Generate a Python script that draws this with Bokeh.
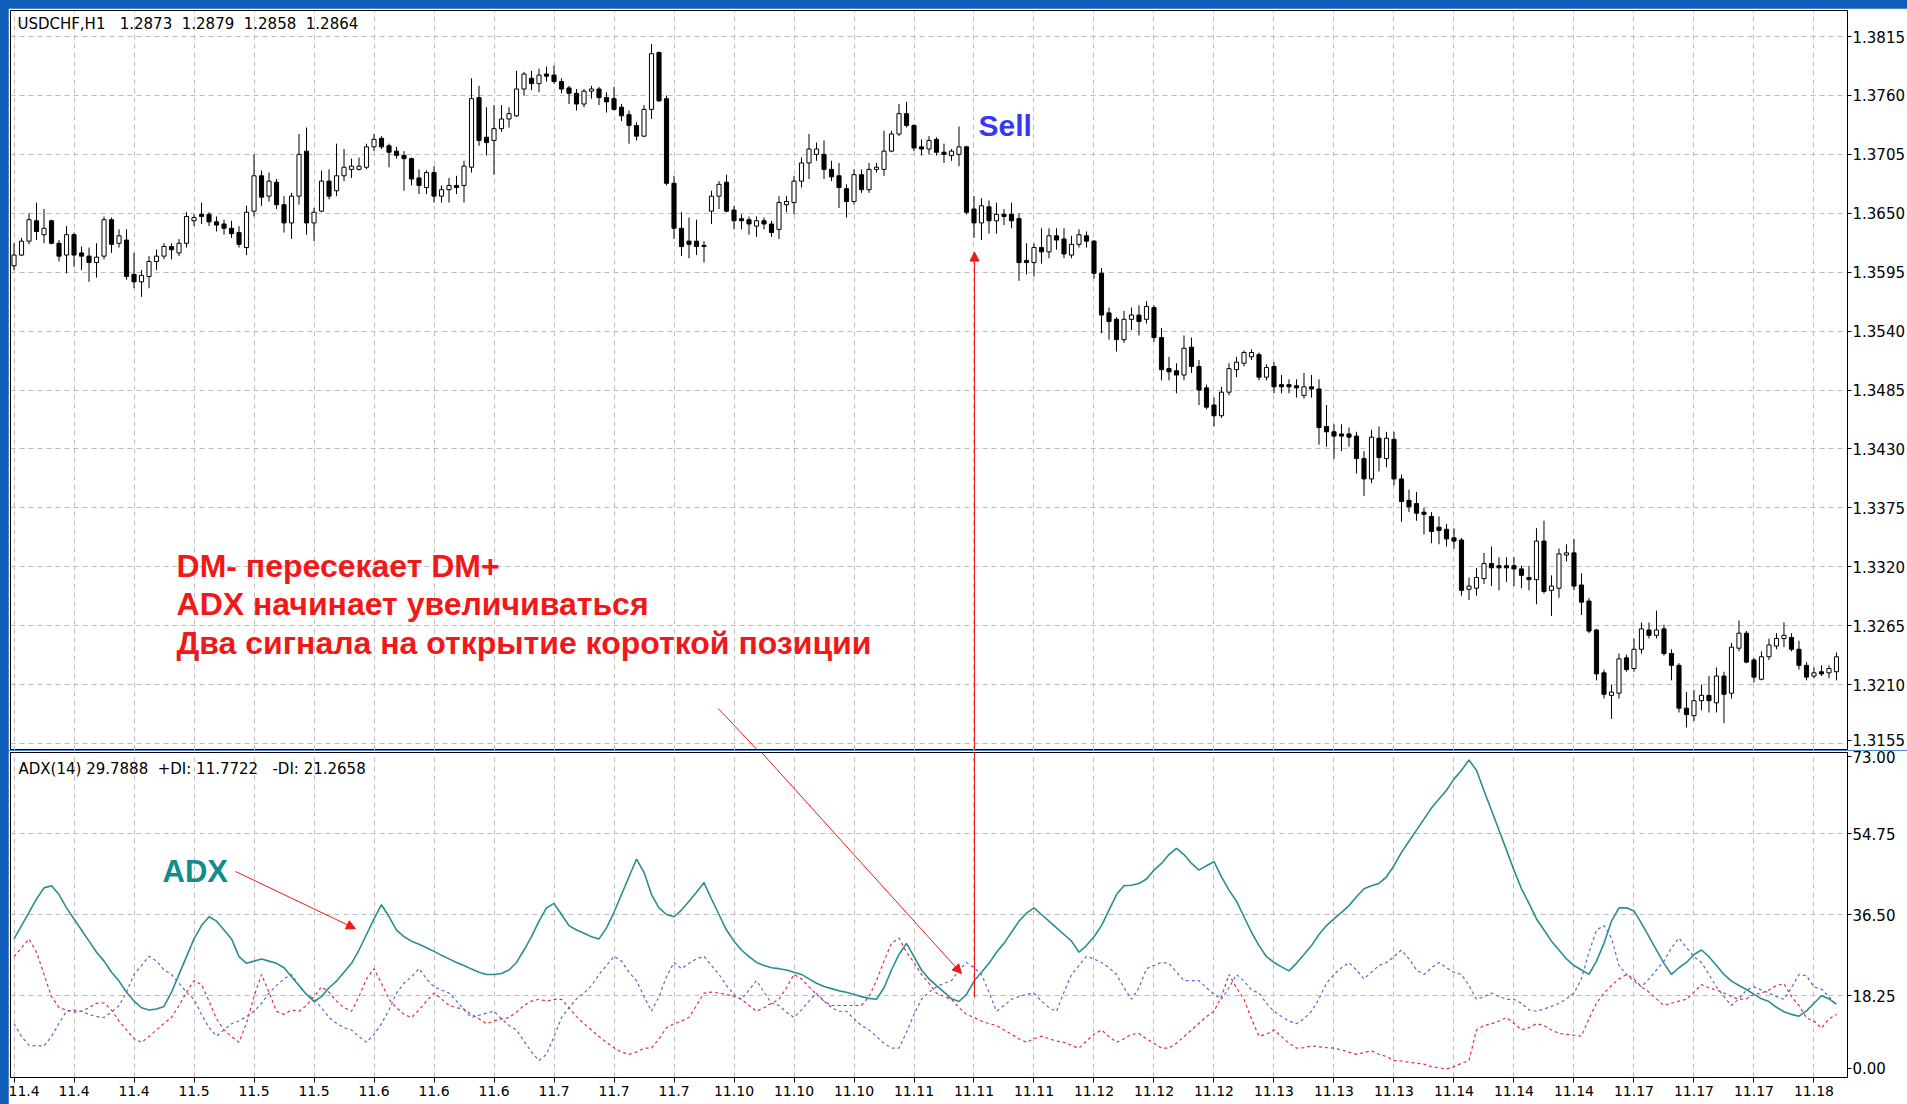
import numpy as np
from bokeh.plotting import figure
from bokeh.layouts import column
from bokeh.models import (Range1d, FixedTicker, NumeralTickFormatter, Label, Arrow,
                          NormalHead, ColumnDataSource, GlobalInlineStyleSheet)
from bokeh.embed import file_html
from bokeh.resources import INLINE

# ---------------- data (USDCHF H1) ----------------
opens = [1.3601,1.3611,1.3624,1.3643,1.3630,1.3643,1.3622,1.3611,1.3630,1.3613,
 1.3610,1.3604,1.3610,1.3644,1.3622,1.3625,1.3593,1.3586,1.3591,1.3605,
 1.3610,1.3619,1.3613,1.3622,1.3643,1.3649,1.3649,1.3642,1.3640,1.3636,
 1.3632,1.3618,1.3652,1.3685,1.3666,1.3679,1.3658,1.3641,1.3666,1.3708,
 1.3641,1.3652,1.3680,1.3671,1.3685,1.3691,1.3691,1.3693,1.3712,1.3720,
 1.3713,1.3708,1.3704,1.3701,1.3683,1.3674,1.3688,1.3666,1.3672,1.3676,
 1.3676,1.3693,1.3758,1.3721,1.3718,1.3729,1.3738,1.3741,1.3766,1.3776,
 1.3771,1.3780,1.3779,1.3773,1.3767,1.3762,1.3752,1.3764,1.3766,1.3758,
 1.3757,1.3749,1.3742,1.3732,1.3722,1.3747,1.3800,1.3757,1.3678,1.3636,
 1.3624,1.3624,1.3620,1.3652,1.3666,1.3679,1.3653,1.3645,1.3644,1.3638,
 1.3643,1.3640,1.3635,1.3658,1.3660,1.3680,1.3697,1.3705,1.3705,1.3691,
 1.3685,1.3673,1.3661,1.3686,1.3672,1.3691,1.3691,1.3708,1.3724,1.3743,
 1.3732,1.3712,1.3710,1.3719,1.3707,1.3704,1.3705,1.3712,1.3654,1.3641,
 1.3656,1.3643,1.3649,1.3649,1.3645,1.3606,1.3604,1.3618,1.3614,1.3629,
 1.3626,1.3611,1.3621,1.3629,1.3624,1.3594,1.3557,1.3551,1.3532,1.3551,
 1.3555,1.3551,1.3562,1.3534,1.3505,1.3503,1.3499,1.3525,1.3507,1.3487,
 1.3471,1.3461,1.3483,1.3504,1.3510,1.3516,1.3518,1.3497,1.3507,1.3490,
 1.3490,1.3489,1.3480,1.3488,1.3486,1.3451,1.3446,1.3444,1.3444,1.3442,
 1.3421,1.3402,1.3440,1.3421,1.3439,1.3402,1.3382,1.3379,1.3371,1.3367,
 1.3357,1.3355,1.3347,1.3345,1.3299,1.3300,1.3309,1.3323,1.3321,1.3321,
 1.3321,1.3318,1.3310,1.3308,1.3344,1.3298,1.3300,1.3331,1.3333,1.3303,
 1.3288,1.3261,1.3221,1.3200,1.3202,1.3235,1.3225,1.3243,1.3261,1.3256,
 1.3262,1.3239,1.3228,1.3188,1.3181,1.3195,1.3200,1.3193,1.3218,1.3202,
 1.3244,1.3258,1.3233,1.3215,1.3236,1.3246,1.3253,1.3254,1.3243,1.3228,
 1.3218,1.3222,1.3221,1.3222]
highs = [1.3622,1.3627,1.3650,1.3660,1.3654,1.3644,1.3625,1.3638,1.3632,1.3619,
 1.3618,1.3622,1.3647,1.3646,1.3635,1.3635,1.3613,1.3597,1.3610,1.3616,
 1.3622,1.3622,1.3626,1.3651,1.3649,1.3660,1.3651,1.3647,1.3644,1.3643,
 1.3638,1.3657,1.3705,1.3690,1.3688,1.3682,1.3666,1.3669,1.3724,1.3730,
 1.3655,1.3690,1.3691,1.3715,1.3710,1.3701,1.3702,1.3715,1.3724,1.3722,
 1.3715,1.3712,1.3708,1.3702,1.3691,1.3690,1.3694,1.3676,1.3683,1.3685,
 1.3699,1.3776,1.3769,1.3749,1.3751,1.3751,1.3749,1.3783,1.3782,1.3783,
 1.3785,1.3787,1.3788,1.3776,1.3769,1.3766,1.3766,1.3769,1.3768,1.3763,
 1.3768,1.3752,1.3746,1.3735,1.3751,1.3808,1.3801,1.3760,1.3685,1.3651,
 1.3646,1.3644,1.3624,1.3671,1.3680,1.3686,1.3657,1.3649,1.3647,1.3647,
 1.3646,1.3643,1.3666,1.3666,1.3685,1.3702,1.3724,1.3716,1.3718,1.3699,
 1.3697,1.3677,1.3691,1.3691,1.3697,1.3697,1.3727,1.3727,1.3752,1.3754,
 1.3733,1.3719,1.3722,1.3721,1.3715,1.3710,1.3731,1.3713,1.3666,1.3664,
 1.3662,1.3660,1.3654,1.3660,1.3650,1.3622,1.3622,1.3636,1.3636,1.3636,
 1.3636,1.3629,1.3635,1.3633,1.3625,1.3599,1.3562,1.3553,1.3559,1.3562,
 1.3564,1.3568,1.3564,1.3543,1.3516,1.3510,1.3536,1.3534,1.3513,1.3490,
 1.3478,1.3488,1.3510,1.3516,1.3522,1.3523,1.3520,1.3509,1.3511,1.3499,
 1.3495,1.3495,1.3501,1.3499,1.3495,1.3471,1.3453,1.3453,1.3450,1.3446,
 1.3428,1.3448,1.3451,1.3446,1.3446,1.3406,1.3392,1.3390,1.3375,1.3371,
 1.3367,1.3360,1.3356,1.3347,1.3310,1.3319,1.3333,1.3339,1.3329,1.3329,
 1.3329,1.3321,1.3321,1.3356,1.3363,1.3312,1.3337,1.3341,1.3346,1.3314,
 1.3291,1.3262,1.3224,1.3210,1.3239,1.3238,1.3253,1.3268,1.3268,1.3279,
 1.3266,1.3243,1.3230,1.3203,1.3205,1.3210,1.3218,1.3226,1.3222,1.3249,
 1.3270,1.3260,1.3235,1.3241,1.3253,1.3258,1.3268,1.3258,1.3251,1.3231,
 1.3226,1.3228,1.3228,1.3240]
lows = [1.3597,1.3610,1.3621,1.3625,1.3622,1.3621,1.3605,1.3594,1.3600,1.3597,
 1.3586,1.3590,1.3607,1.3613,1.3618,1.3588,1.3580,1.3572,1.3580,1.3597,
 1.3607,1.3607,1.3610,1.3618,1.3638,1.3640,1.3638,1.3633,1.3630,1.3627,
 1.3618,1.3611,1.3647,1.3657,1.3661,1.3654,1.3632,1.3626,1.3658,1.3630,
 1.3624,1.3651,1.3663,1.3666,1.3680,1.3683,1.3690,1.3691,1.3708,1.3710,
 1.3693,1.3701,1.3671,1.3676,1.3668,1.3668,1.3660,1.3660,1.3660,1.3668,
 1.3660,1.3688,1.3713,1.3704,1.3686,1.3726,1.3730,1.3740,1.3760,1.3765,
 1.3763,1.3773,1.3771,1.3762,1.3752,1.3746,1.3749,1.3757,1.3751,1.3744,
 1.3746,1.3736,1.3715,1.3718,1.3721,1.3738,1.3754,1.3676,1.3626,1.3610,
 1.3608,1.3611,1.3604,1.3640,1.3654,1.3651,1.3635,1.3635,1.3630,1.3628,
 1.3635,1.3628,1.3626,1.3651,1.3649,1.3674,1.3682,1.3699,1.3682,1.3680,
 1.3655,1.3646,1.3658,1.3669,1.3669,1.3688,1.3685,1.3707,1.3722,1.3730,
 1.3708,1.3704,1.3705,1.3704,1.3697,1.3699,1.3694,1.3649,1.3627,1.3625,
 1.3631,1.3631,1.3639,1.3636,1.3587,1.3593,1.3591,1.3603,1.3608,1.3616,
 1.3608,1.3608,1.3618,1.3618,1.3589,1.3538,1.3532,1.3521,1.3529,1.3541,
 1.3536,1.3547,1.3530,1.3494,1.3494,1.3482,1.3494,1.3501,1.3471,1.3467,
 1.3451,1.3459,1.3480,1.3497,1.3507,1.3513,1.3494,1.3494,1.3482,1.3482,
 1.3482,1.3478,1.3477,1.3478,1.3434,1.3432,1.3421,1.3428,1.3432,1.3407,
 1.3386,1.3398,1.3409,1.3413,1.3396,1.3362,1.3371,1.3363,1.3350,1.3342,
 1.3341,1.3339,1.3337,1.3293,1.3289,1.3293,1.3304,1.3302,1.3298,1.3306,
 1.3302,1.3300,1.3298,1.3285,1.3295,1.3274,1.3291,1.3325,1.3298,1.3275,
 1.3258,1.3214,1.3197,1.3178,1.3197,1.3222,1.3222,1.3239,1.3253,1.3253,
 1.3237,1.3214,1.3184,1.3170,1.3176,1.3186,1.3184,1.3184,1.3174,1.3197,
 1.3241,1.3230,1.3212,1.3214,1.3233,1.3243,1.3245,1.3241,1.3224,1.3214,
 1.3216,1.3218,1.3216,1.3214]
closes = [1.3611,1.3624,1.3644,1.3633,1.3636,1.3622,1.3610,1.3630,1.3611,1.3610,
 1.3604,1.3609,1.3644,1.3621,1.3629,1.3591,1.3586,1.3592,1.3605,1.3610,
 1.3619,1.3616,1.3622,1.3647,1.3646,1.3647,1.3642,1.3639,1.3636,1.3631,
 1.3621,1.3651,1.3685,1.3665,1.3680,1.3658,1.3641,1.3666,1.3705,1.3641,
 1.3651,1.3680,1.3666,1.3685,1.3693,1.3694,1.3694,1.3712,1.3719,1.3712,
 1.3707,1.3704,1.3701,1.3682,1.3676,1.3688,1.3666,1.3672,1.3676,1.3674,
 1.3694,1.3757,1.3718,1.3716,1.3729,1.3738,1.3743,1.3766,1.3780,1.3771,
 1.3779,1.3778,1.3773,1.3766,1.3762,1.3752,1.3764,1.3766,1.3758,1.3754,
 1.3747,1.3741,1.3732,1.3722,1.3747,1.3799,1.3755,1.3678,1.3636,1.3619,
 1.3621,1.3619,1.3619,1.3666,1.3677,1.3652,1.3643,1.3643,1.3640,1.3643,
 1.3640,1.3632,1.3660,1.3661,1.3680,1.3697,1.3710,1.3710,1.3691,1.3684,
 1.3674,1.3661,1.3686,1.3672,1.3691,1.3693,1.3708,1.3724,1.3743,1.3732,
 1.3711,1.3710,1.3718,1.3707,1.3705,1.3708,1.3712,1.3651,1.3641,1.3657,
 1.3643,1.3649,1.3647,1.3643,1.3604,1.3604,1.3618,1.3614,1.3629,1.3625,
 1.3612,1.3621,1.3630,1.3624,1.3594,1.3555,1.3549,1.3532,1.3551,1.3555,
 1.3549,1.3563,1.3534,1.3504,1.3502,1.3499,1.3524,1.3507,1.3485,1.3469,
 1.3461,1.3483,1.3505,1.3511,1.3520,1.3520,1.3497,1.3506,1.3488,1.3488,
 1.3488,1.3487,1.3488,1.3486,1.3450,1.3446,1.3442,1.3442,1.3441,1.3421,
 1.3402,1.3441,1.3422,1.3440,1.3402,1.3381,1.3376,1.3370,1.3369,1.3353,
 1.3354,1.3346,1.3344,1.3298,1.3302,1.3310,1.3323,1.3319,1.3319,1.3319,
 1.3318,1.3312,1.3308,1.3344,1.3297,1.3302,1.3332,1.3333,1.3302,1.3287,
 1.3260,1.3220,1.3201,1.3203,1.3234,1.3224,1.3243,1.3262,1.3256,1.3261,
 1.3239,1.3228,1.3188,1.3182,1.3195,1.3200,1.3195,1.3218,1.3201,1.3245,
 1.3258,1.3231,1.3217,1.3236,1.3247,1.3253,1.3256,1.3243,1.3228,1.3217,
 1.3221,1.3220,1.3225,1.3236]

adx = [31,34,37,40,42.5,43,41,38,35.5,33,
 30.5,28,26,23.5,21.5,19,17,15.5,15,15.2,
 15.8,19,23,27,31,34,36,35,33,31,
 27,25.5,26,26.5,26,25.5,24.5,22.5,20.5,18.5,
 16.9,18,20,21.5,23.5,25.5,28.5,32,35.5,38.7,
 36,33,31.5,30.5,29.8,29,28.2,27.3,26.5,25.7,
 25,24.2,23.5,23,23,23.2,24,25.7,28.5,31.5,
 35,38,39,36.5,34,33,32.3,31.5,31,33.5,
 37,41,45,49,46,41,38,36.5,36,37.5,
 39.5,41.5,43.7,40,36.5,33,30.5,28.5,27,25.7,
 25,24.5,24.3,24,23.5,23,22,21,20.3,19.8,
 19.3,19,18.5,18,17.6,17.4,20,24,27.5,30,
 27,24,22,20.5,19,17.5,16.9,18.5,21.5,23.5,
 25.5,28,30,32.5,35,36.8,38,36.5,35,33.5,
 32,30.5,28,29.5,31.5,34,37.5,41,43,43.1,
 43.5,44.5,46.5,48,50,51.4,50,48,46.5,47.5,
 48.4,45,42,39.5,36,32.5,29.5,27,25.7,24.7,
 23.8,25.5,27.5,29.5,32,34,35.5,37,38.5,40.5,
 42.3,43,43.5,45,47.5,50.5,53,55.5,58,60.5,
 62.5,64.5,67,69,71.3,69,64.4,60,55.5,51,
 46.5,42.3,39,35.5,33,30.5,28.5,26.5,25,24,
 23,26,30,35,38,38,37.3,34.5,31.5,28.5,
 25.5,23,24.5,25.7,27.5,28.5,27,25,23,21.5,
 20.5,19.6,18.5,17.5,16.9,15.6,14.6,14,13.6,14.8,
 16.5,18.2,17.5,16.3]
plus_di = [11.9,9,7,6.9,6.9,9,12,14.7,15,14.7,
 14,13.5,13.3,14.5,16,19,23,25,27.1,26,
 24,23,21,19,17.4,14,11,9.1,10.5,11.9,
 12.5,13.5,14.7,16.5,18.8,20.5,22,23,20.5,18.5,
 17.4,15.5,13.3,12,11,10.5,9,7.7,9.5,11.9,
 15,18.8,21,22.5,24.3,22,20.2,19.5,18.8,17,
 15,13.3,13.8,14.3,14.7,13,11.5,10.5,8,5.5,
 3.6,5,9,13.3,15.5,17.5,18.8,20.5,23,25,
 27.1,26,23.5,21.6,18,14.7,18,22.5,25.7,24.3,
 25.5,26.5,27.1,25,23,20.5,18.5,17.4,19.5,21.6,
 19,16.5,16,14.5,13.3,15,17,18.8,17,15.5,
 14.7,14.7,13,11.5,10.5,9,7.5,6.4,6.4,10,
 14,17.4,19,20.2,21,21.6,24,25.7,24.5,23,
 19,14.7,16,17.4,18,18.5,18.8,17,15.5,14.7,
 19,23,25,27.1,26.5,25.7,24.5,23,20,17.4,
 20,24.3,25,25.7,25.5,23.5,21.6,21.6,21.6,20,
 18.5,17.4,20,23,21.5,19.5,18.8,16.5,14.7,13.5,
 12.5,11.9,13,14.7,17.5,21,23,24.5,25.7,24,
 22,23.5,25,25.7,27,28.5,26.5,24,23,24.5,
 25.7,24.5,23.5,23,20.5,17.4,18,18.8,18,17.4,
 17.4,16.5,15,14.7,15.2,15.8,16.5,17.5,18.8,22,
 28,33,34,31.2,25,23,21.5,20.2,22,24,
 26,29,31.2,29,27,25.7,23,20.2,18,16,
 17.5,19.5,20.2,19.5,18.8,18,17.4,20,23,22.7,
 20.2,19.7,18,16]
minus_di = [27,29,31,28,23,18,15.5,15,14.5,14.7,
 15.5,16.5,16.6,15,12.5,10.5,8.5,7.7,9,10.5,
 12,13.3,16,19,21.6,20.7,17,13,10.5,9,
 7.7,12,18,23,19,14.7,14,15,14.7,16,
 18,20.2,19,17,15.5,14.7,18,22,24.3,21,
 17.4,15.5,14,13.3,15,17,18.8,17.5,16,15.5,
 15.2,14,13,11.9,12.5,13,13.3,14.5,16,17,
 17.4,17,17.4,17.4,15.5,13.5,11.9,10.5,9,7.7,
 6.5,5.5,5,5.5,6.4,6.4,8.5,11,11.9,12.5,
 13.3,16,18.8,19,18.8,18.5,18,17.4,16,14.7,
 15.5,16.5,17.4,20,23,22,20.2,18.5,17,16,
 16,16,16,16,18,21.6,26,30,31.2,28,
 25.7,23,21,18.8,18,17.4,15.5,14,13.3,12.5,
 11.9,11.5,10.5,9.5,8.5,7.7,8.5,9.1,8.5,8,
 7.7,7,6.4,8,9.5,10.5,9,7.7,8.5,9.5,
 9.7,8.5,7.5,6.4,6.4,7.5,9,10.5,12,13.5,
 14.7,18,23,20,17.4,13,9.1,9.5,10.5,9,
 7.5,6.4,6.5,6.9,6.7,6.5,6.4,6,5.5,5,
 5.4,5.8,5,4.5,3.6,3.5,3.2,3,2.8,2.2,
 2,1.7,2.2,3,3.6,10.5,11.5,11.9,12.5,13.3,
 12,10.5,11,11.9,11.5,10.5,9.7,9.5,9.3,9.1,
 13,16.5,18.8,20.5,22,23,22,20.2,19,17.5,
 16,16.5,17,17.4,19,20.7,20,19.5,18.8,18,
 17.4,17.5,18.5,18.8,19.5,20.5,20.9,18,16,13.2,
 12.5,10.9,13,14]

date_labels = ["11.4","11.4","11.4","11.5","11.5","11.5","11.6","11.6","11.6",
 "11.7","11.7","11.7","11.10","11.10","11.10","11.11","11.11","11.11",
 "11.12","11.12","11.12","11.13","11.13","11.13","11.14","11.14","11.14",
 "11.17","11.17","11.17","11.18"]
price_ticks = [1.3155,1.3210,1.3265,1.3320,1.3375,1.3430,1.3485,1.3540,
 1.3595,1.3650,1.3705,1.3760,1.3815]
adx_ticks = [0.0, 18.25, 36.50, 54.75, 73.0]

header_price = "USDCHF,H1\u00a0\u00a0\u00a01.2873\u00a0\u00a01.2879\u00a0\u00a01.2858\u00a0\u00a01.2864"
header_adx = "ADX(14) 29.7888\u00a0\u00a0+DI: 11.7722\u00a0\u00a0\u00a0-DI: 21.2658"
note_lines = ["DM- пересекает DM+", "ADX начинает увеличиваться",
              "Два сигнала на открытие короткой позиции"]

# ---------------- styling ----------------
FONT = "DejaVu Sans"
BOLD = "Liberation Sans"
GRID = "#BDBDBD"
RED = "#F01818"
n = len(closes)
idx = np.arange(n)
o = np.array(opens); c = np.array(closes)
tick_bars = list(range(0, 8 * len(date_labels), 8))
xr = Range1d(-0.47, 244.47)

# MT4 draws the extreme labels of a window just inside the window edge
EDGE_IN = 0.9        # ADX top label shift (value units)
EDGE_IN_LOW = 1.9    # ADX bottom label shift
PRICE_EDGE_IN = 0.0003  # price bottom label shift
adx_lo, adx_hi = min(adx_ticks), max(adx_ticks)
adx_label_pos = [t + EDGE_IN_LOW if t == adx_lo else (t - EDGE_IN if t == adx_hi else t)
                 for t in adx_ticks]
adx_overrides = {pos: f"{t:.2f}" for pos, t in zip(adx_label_pos, adx_ticks)}
adx_grid = [t for t in adx_ticks if adx_lo < t < adx_hi]
p_lo = min(price_ticks)
price_label_pos = [t + PRICE_EDGE_IN if t == p_lo else t for t in price_ticks]
price_overrides = {pos: f"{t:.4f}" for pos, t in zip(price_label_pos, price_ticks)}

css = GlobalInlineStyleSheet(css="html{background:#ffffff;} body{margin:0;padding:8px 0 0 8px;background:#0E5DB8;}")

def style_y(p, ticks, fmt, grid_ticks, overrides):
    ax = p.yaxis[0]
    ax.ticker = FixedTicker(ticks=ticks, minor_ticks=[])
    ax.formatter = NumeralTickFormatter(format=fmt)
    ax.major_label_overrides = overrides
    ax.major_label_text_font = FONT
    ax.major_label_text_font_size = "15px"
    ax.major_label_text_color = "black"
    ax.major_tick_out = 4
    ax.major_tick_in = 0
    ax.minor_tick_out = 0
    ax.minor_tick_in = 0
    ax.major_tick_line_color = "black"
    ax.axis_line_color = "black"
    ax.major_label_standoff = 1
    p.ygrid.ticker = FixedTicker(ticks=grid_ticks, minor_ticks=[])
    p.ygrid.grid_line_color = GRID
    p.ygrid.grid_line_dash = "5 4"
    p.xgrid.ticker = FixedTicker(ticks=tick_bars, minor_ticks=[])
    p.xgrid.grid_line_color = GRID
    p.xgrid.grid_line_dash = "5 4"

common = dict(frame_width=1837, x_range=xr, y_axis_location="right",
              output_backend="svg", toolbar_location=None,
              min_border_left=2, min_border_right=60,
              background_fill_color="white", border_fill_color="white",
              outline_line_color="black", outline_line_width=1)

# ---------------- price panel ----------------
p1 = figure(frame_height=740, y_range=Range1d(1.31485, 1.38393),
            x_axis_location=None, min_border_top=2, min_border_bottom=0, **common)
style_y(p1, price_label_pos, "0.0000", price_ticks, price_overrides)

src = ColumnDataSource(dict(x=idx, h=highs, l=lows,
                            top=np.maximum(o, c), bot=np.minimum(o, c),
                            fill=["white" if cc >= oo else "black" for oo, cc in zip(opens, closes)]))
p1.segment(x0="x", y0="l", x1="x", y1="h", source=src, line_color="black", line_width=1)
p1.vbar(x="x", width=0.55, top="top", bottom="bot", source=src,
        fill_color="fill", line_color="black", line_width=1)

p1.add_layout(Label(x=0.45, y=1.38271, text=header_price, text_font=FONT,
                    text_font_size="15px", text_color="black", text_baseline="middle"))
p1.add_layout(Label(x=128.6, y=1.37319, text="Sell", text_font=BOLD, text_font_style="bold",
                    text_font_size="30px", text_color="#3838F2", text_baseline="alphabetic"))
for txt, yy in zip(note_lines, [1.33212, 1.32857, 1.32493]):
    p1.add_layout(Label(x=21.67, y=yy, text=txt, text_font=BOLD, text_font_style="bold",
                        text_font_size="32px", text_color=RED, text_baseline="middle"))
# red arrows (price panel part)
p1.add_layout(Arrow(x_start=128.07, y_start=1.3146, x_end=128.07, y_end=1.36138,
                    end=NormalHead(size=9, fill_color=RED, line_color=RED),
                    line_color=RED, line_width=1))
p1.add_layout(Arrow(x_start=93.87, y_start=1.31879, x_end=99.52, y_end=1.3146,
                    end=None, line_color=RED, line_width=1))

# ---------------- ADX panel ----------------
p2 = figure(frame_height=325, y_range=Range1d(-0.22, 73.0),
            x_axis_location="below", min_border_top=2, min_border_bottom=27, **common)
style_y(p2, adx_label_pos, "0.00", adx_grid, adx_overrides)
xa = p2.xaxis[0]
xa.ticker = FixedTicker(ticks=tick_bars, minor_ticks=[])
xa.major_label_overrides = {b: lab for b, lab in zip(tick_bars, date_labels)}
xa.major_label_text_font = FONT
xa.major_label_text_font_size = "14px"
xa.major_label_text_color = "black"
xa.major_label_text_align = "left"
xa.major_tick_out = 5
xa.major_tick_in = 0
xa.minor_tick_out = 0
xa.minor_tick_in = 0
xa.major_label_standoff = 3
xa.axis_line_color = "black"

p2.line(idx, minus_di, line_color="#E0284E", line_dash="3 3", line_width=1.2)
p2.line(idx, plus_di, line_color="#5C66CC", line_dash="3 3", line_width=1.2)
p2.line(idx, adx, line_color="#2A8E8E", line_width=1.6)

p2.add_layout(Label(x=0.6, y=69.2, text=header_adx, text_font=FONT,
                    text_font_size="15px", text_color="black", text_baseline="middle"))
p2.add_layout(Label(x=19.8, y=46.2, text="ADX", text_font=BOLD, text_font_style="bold",
                    text_font_size="31px", text_color="#108C8C", text_baseline="middle"))
p2.add_layout(Arrow(x_start=29.53, y_start=46.2, x_end=45.53, y_end=33.3,
                    end=NormalHead(size=9, fill_color=RED, line_color=RED),
                    line_color=RED, line_width=1))
p2.add_layout(Arrow(x_start=99.52, y_start=73.3, x_end=126.33, y_end=23.2,
                    end=NormalHead(size=9, fill_color=RED, line_color=RED),
                    line_color=RED, line_width=1))
p2.add_layout(Arrow(x_start=128.07, y_start=73.3, x_end=128.07, y_end=17.8,
                    end=None, line_color=RED, line_width=1))

layout = column(p1, p2, spacing=0, stylesheets=[css])
open("out.html", "w").write(file_html(layout, INLINE))
